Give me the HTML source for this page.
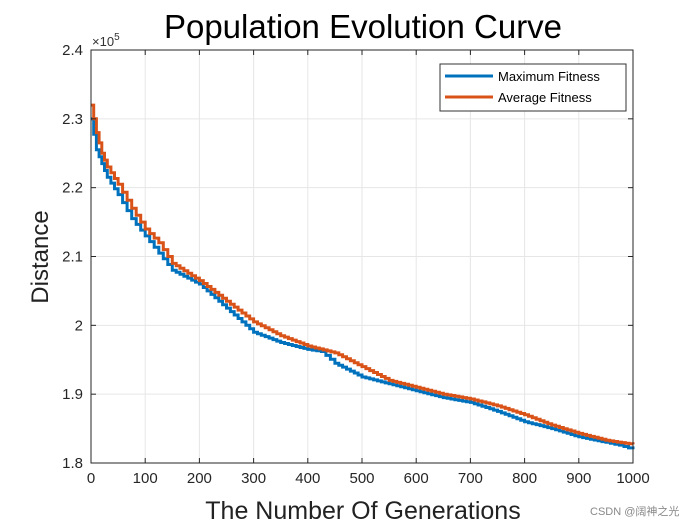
<!DOCTYPE html>
<html><head><meta charset="utf-8"><style>
body{margin:0;background:#fff;width:700px;height:525px;overflow:hidden;font-family:"Liberation Sans",sans-serif}
</style></head><body>
<svg width="700" height="525" font-family="Liberation Sans, sans-serif">
<rect x="0" y="0" width="700" height="525" fill="#fff"/>
<rect x="91" y="50" width="542" height="413" fill="#fff"/>
<g id="grid"></g>
<g id="series"></g>
<g id="axes"></g>
<text x="363" y="38" font-size="33" text-anchor="middle" fill="#000">Population Evolution Curve</text>
<text x="363" y="519" font-size="25" text-anchor="middle" fill="#222">The Number Of Generations</text>
<text x="48" y="257" font-size="24" text-anchor="middle" fill="#222" transform="rotate(-90 48 257)">Distance</text>
<text x="92" y="46" font-size="13" fill="#333">×10<tspan font-size="10" dy="-6">5</tspan></text>
<g>
<rect x="440" y="64" width="186" height="47" fill="#fff" stroke="#333" stroke-width="1"/>
<line x1="445" y1="76" x2="493" y2="76" stroke="#0072BD" stroke-width="3"/>
<text x="498" y="81" font-size="13" fill="#000">Maximum Fitness</text>
<line x1="445" y1="97" x2="493" y2="97" stroke="#D95319" stroke-width="3"/>
<text x="498" y="102" font-size="13" fill="#000">Average Fitness</text>
</g>
<text x="590" y="515" font-size="11" fill="#888">CSDN @阔神之光</text>
</svg>
<script>
const xTicks=[0,100,200,300,400,500,600,700,800,900,1000];
const yTicks=[1.8,1.9,2.0,2.1,2.2,2.3,2.4];
const yTickLabels=["1.8","1.9","2","2.1","2.2","2.3","2.4"];
const avgGen=[0,10,20,30,50,75,100,125,150,200,250,300,350,400,450,500,550,600,650,700,750,800,850,900,950,1000];
const avgVal=[2.32,2.28,2.25,2.23,2.205,2.17,2.14,2.12,2.09,2.065,2.035,2.005,1.985,1.97,1.96,1.94,1.92,1.91,1.90,1.893,1.883,1.87,1.855,1.843,1.833,1.827];
const maxGen=[0,10,20,30,50,75,100,125,150,200,250,300,350,400,425,450,500,550,600,650,700,750,800,850,900,950,975,1000];
const maxVal=[2.30,2.255,2.235,2.215,2.19,2.155,2.13,2.105,2.08,2.06,2.025,1.99,1.975,1.965,1.962,1.945,1.925,1.915,1.905,1.895,1.888,1.875,1.86,1.85,1.838,1.83,1.826,1.82];
const NS="http://www.w3.org/2000/svg";
const X0=91,X1=633,Y0=463,Y1=50;
const sx=v=>X0+(v-0)/(1000-0)*(X1-X0);
const sy=v=>Y0-(v-1.8)/(2.4-1.8)*(Y0-Y1);
function mk(tag,attrs,parent){const e=document.createElementNS(NS,tag);for(const k in attrs)e.setAttribute(k,attrs[k]);parent.appendChild(e);return e;}
const grid=document.getElementById('grid'),axes=document.getElementById('axes'),ser=document.getElementById('series');
xTicks.forEach((t,i)=>{
 const g=mk('line',{x1:sx(t),x2:sx(t),y1:Y1,y2:Y0,stroke:'#e6e6e6','stroke-width':1},grid);
 
 
 mk('line',{x1:sx(t),x2:sx(t),y1:Y0,y2:Y0-5,stroke:'#262626'},axes);
 mk('line',{x1:sx(t),x2:sx(t),y1:Y1,y2:Y1+5,stroke:'#262626'},axes);
 const tx=mk('text',{x:sx(t),y:Y0+20,'font-size':15,'text-anchor':'middle',fill:'#262626'},axes);
 tx.textContent=String(t);
 
 
});
yTicks.forEach((t,i)=>{
 const g=mk('line',{x1:X0,x2:X1,y1:sy(t),y2:sy(t),stroke:'#e6e6e6','stroke-width':1},grid);
 
 
 mk('line',{x1:X0,x2:X0+5,y1:sy(t),y2:sy(t),stroke:'#262626'},axes);
 mk('line',{x1:X1,x2:X1-5,y1:sy(t),y2:sy(t),stroke:'#262626'},axes);
 const tx=mk('text',{x:X0-8,y:sy(t)+5,'font-size':15,'text-anchor':'end',fill:'#262626'},axes);
 tx.textContent=yTickLabels[i];
 
 
});
const box=mk('rect',{x:X0,y:Y1,width:X1-X0,height:Y0-Y1,fill:'none',stroke:'#262626','stroke-width':1},axes);


function stepPath(gs,vs){let d='M'+sx(gs[0])+','+sy(vs[0]);for(let i=1;i<gs.length;i++){const xm=sx(gs[i]);const xp=sx(gs[i-1]);const n=Math.max(2,Math.round((xm-xp)/4));for(let k=1;k<=n;k++){const xx=xp+(xm-xp)*k/n;const vv=vs[i-1]+(vs[i]-vs[i-1])*k/n;d+=' H'+xx.toFixed(1)+' V'+sy(vv).toFixed(1);}}return d;}
const pm=mk('path',{d:stepPath(maxGen,maxVal),fill:'none',stroke:'#0072BD','stroke-width':3},ser);


const pa=mk('path',{d:stepPath(avgGen,avgVal),fill:'none',stroke:'#D95319','stroke-width':3},ser);


</script>
</body></html>
